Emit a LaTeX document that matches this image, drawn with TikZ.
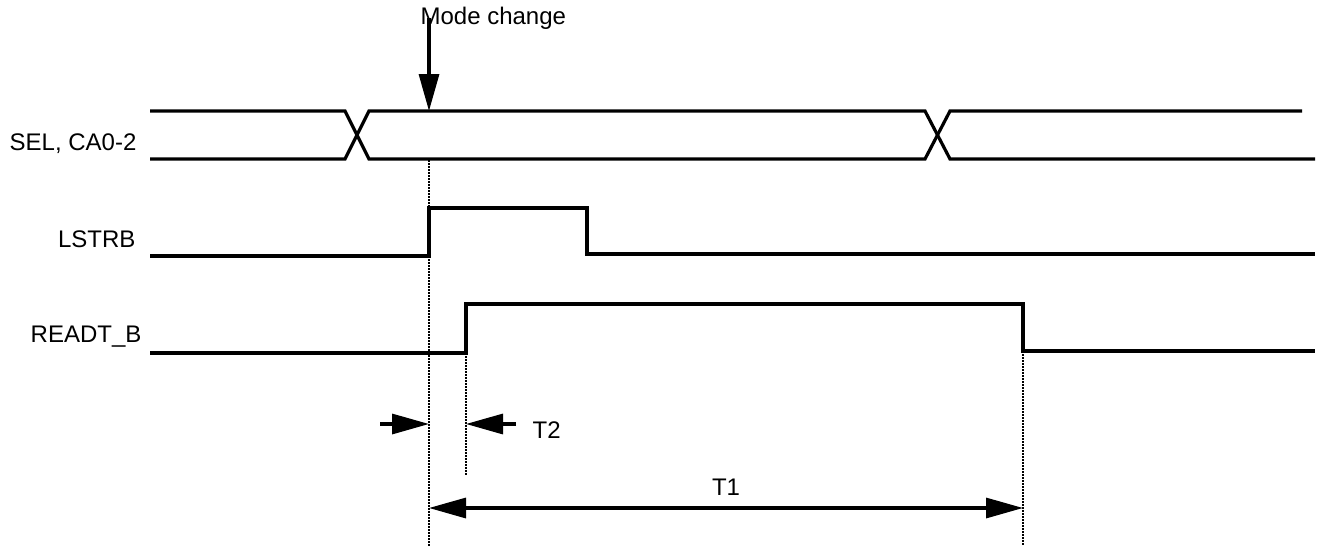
\documentclass[tikz,border=0pt]{standalone}
\usepackage{fontspec}
\setmainfont{Liberation Sans}
\usetikzlibrary{arrows.meta, positioning}

\begin{document}
\begin{tikzpicture}[x=1pt, y=-1pt, line width=3.2pt, >={Triangle[length=37pt,width=20pt]},
	font=\fontsize{24}{28}\selectfont,
	lbl/.style={inner sep=0pt, anchor=east},
	guide/.style={line width=1.8pt, dash pattern=on 2pt off 1pt}]
	\useasboundingbox (0,0) rectangle (1318,546);
	% signal labels
	\node[lbl] (sel) at (138,144) {SEL, CA0-2};
	\node[lbl] (lstrb) at (137,239) {LSTRB};
	\node[lbl] (readt) at (143,337) {READT\_B};
	\node[inner sep=0pt, anchor=west] (mode) at (419,18) {Mode change};
	% SEL, CA0-2
	\draw[line join=miter] (150,111) -- (345,111) -- (369,159) -- (925,159) -- (950,111) -- (1302,111);
	\draw[line join=miter] (150,159) -- (345,159) -- (369,111) -- (925,111) -- (950,159) -- (1315,159);
	% LSTRB
	\draw (150,256) -- (429,256) -- (429,208) -- (587,208) -- (587,254) -- (1315,254);
	% READT_B
	\draw (150,353) -- (466,353) -- (466,304) -- (1023,304) -- (1023,351) -- (1315,351);
	\coordinate (mc) at (429,111);
	\coordinate (t0) at (429,160);
	\coordinate (t2) at (466,353);
	\coordinate (t1) at (1023,351);
	\draw[guide] (t0) -- (429,546);
	\draw[guide] (t2) -- (466,475);
	\draw[guide] (t1) -- (1023,546);
	\draw[->] (mode.west -| mc) -- (mc);
	\foreach \a/\b in {380/t0, 516/t2} {
		\draw[->] (\a,424) -- (\b |- 0,424);
	}
	\node[inner sep=0pt, anchor=west] (lblt2) at (531,430) {T2};
	\draw[<->] (t0 |- 0,508) -- (t1 |- 0,508) node[midway, above=11pt, inner sep=0pt] (lblt1) {T1};
\end{tikzpicture}
\end{document}
